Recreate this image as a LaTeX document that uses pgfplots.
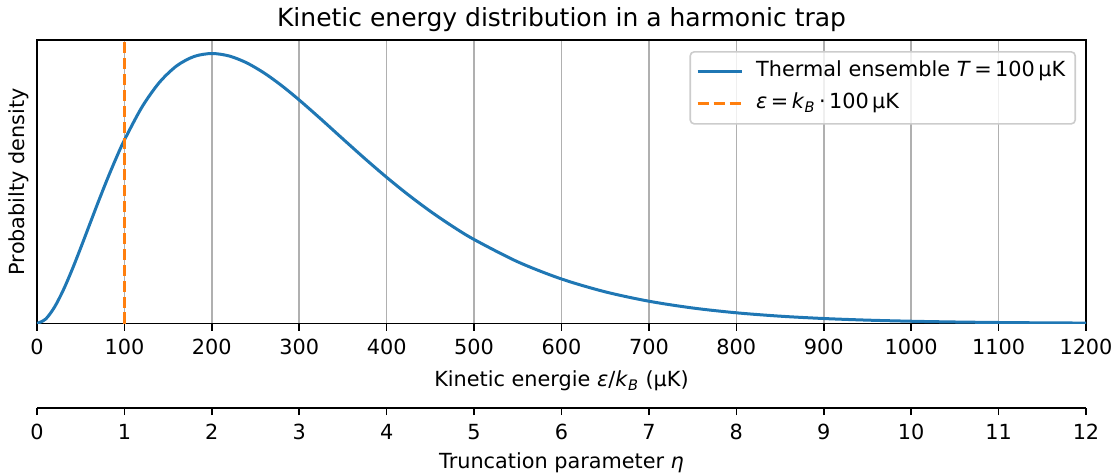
\documentclass[border=0pt]{standalone}
\usepackage{fontspec}
\setmainfont{DejaVu Sans}
\usepackage{pgfplots}
\usepackage{pgfplotstable}
\pgfplotsset{compat=1.18}

\definecolor{tabblue}{HTML}{1F77B4}
\definecolor{taborange}{HTML}{FF7F0E}
\definecolor{gridgray}{HTML}{B0B0B0}
\definecolor{legendedge}{HTML}{CCCCCC}

% Energy distribution of a thermal cloud, normalised to its maximum
\pgfplotstableread{
x     y
0     0
10    0.016715
20    0.060497
30    0.123164
40    0.198121
50    0.280106
60    0.364968
70    0.449489
80    0.531219
90    0.608344
100   0.679570
120   0.801195
140   0.892838
160   0.954770
180   0.989326
200   1.000000
220   0.990661
240   0.965262
260   0.927497
280   0.880685
300   0.827728
325   0.756548
350   0.683329
375   0.610941
400   0.541341
425   0.475937
450   0.415555
475   0.360591
500   0.311167
550   0.228370
600   0.164844
650   0.117336
700   0.082540
750   0.057470
800   0.039660
850   0.027156
900   0.018465
950   0.012479
1000  0.008387
1050  0.005608
1100  0.003733
1150  0.002475
1200  0.001634
}\energydata

\pgfplotsset{
  mplbase/.style={
    scale only axis,
    width=524.5pt,
    tick align=outside,
    major tick length=3.5pt,
    every tick/.style={black, line width=0.8pt},
    axis line style={line width=0.8pt},
    /pgf/number format/assume math mode=true,
    /pgf/number format/1000 sep={},
    ticklabel style={font=\fontsize{10.4}{12.5}\selectfont},
    xticklabel style={anchor=base, yshift=-12pt},
    label style={font=\fontsize{10.4}{12.5}\selectfont},
    xlabel style={at={(axis description cs:0.5,0)}, anchor=base, yshift=-31.5pt},
  }
}

\begin{document}
\begin{tikzpicture}
\begin{axis}[
  mplbase,
  name=main,
  height=141.75pt,
  xmin=0, xmax=1200, ymin=0, ymax=1.05,
  xtick={0,100,...,1200},
  ytick=\empty,
  xtick pos=left,
  xmajorgrids,
  grid style={gridgray, line width=0.8pt},
  title={Kinetic energy distribution in a harmonic trap},
  title style={at={(axis description cs:0.5,1)}, anchor=base, yshift=1pt,
    font=\fontsize{12.5}{15}\selectfont},
  xlabel={Kinetic energie \textit{ε}/\textit{k}\textsubscript{\textit{B}} (µK)},
  ylabel={Probabilty density},
  ylabel style={at={(axis description cs:0,0.5)}, anchor=south, inner sep=4pt},
  legend cell align=left,
  legend style={at={(axis description cs:0.9905,0.961)}, anchor=north east,
    draw=legendedge, line width=0.8pt, rounded corners=2pt,
    fill=white, fill opacity=0.8, text opacity=1,
    font=\fontsize{10.4}{12.5}\selectfont,
    inner xsep=3pt, inner ysep=3pt, row sep=2pt,
    nodes={inner sep=2pt, text height=7.5pt, text depth=2.5pt},
    /tikz/every odd column/.append style={column sep=4.5pt}},
  legend image code/.code={\draw[#1] (0pt,0pt) -- (22pt,0pt);},
]
\addplot[tabblue, line width=1.5pt, smooth] table[x=x, y=y] {\energydata};
\addlegendentry{Thermal ensemble \textit{T}\,=\,100\,µK}
\addplot[taborange, line width=1.5pt, dash pattern=on 5.55pt off 2.4pt]
  coordinates {(100,0) (100,1.05)};
\addlegendentry{\textit{ε}\,=\,\textit{k}\textsubscript{\textit{B}}\,·\,100\,µK}
\end{axis}

\begin{axis}[
  mplbase,
  at={(0pt,-42.25pt)}, anchor=south west,
  height=10pt,
  xmin=0, xmax=12, ymin=0, ymax=1,
  axis y line=none,
  axis x line*=bottom,
  xtick={0,1,...,12},
  xlabel={Truncation parameter \textit{η}},
  xlabel style={yshift=1.5pt},
]
\end{axis}

\pgfresetboundingbox
\useasboundingbox (-18.5pt,-75pt) rectangle (541.5pt,161.75pt);
\end{tikzpicture}
\end{document}
